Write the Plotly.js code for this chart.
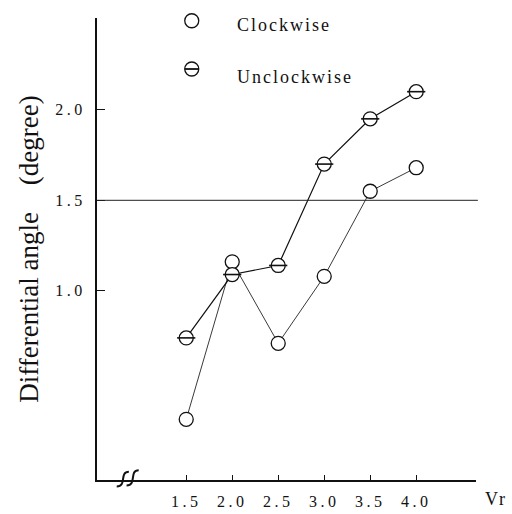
<!DOCTYPE html>
<html><head><meta charset="utf-8">
<script src="https://cdn.plot.ly/plotly-3.0.1.min.js"></script>
<style>
html,body{margin:0;padding:0;background:#fff;}
#chart{width:512px;height:514px;}
.xtick text,.ytick text{letter-spacing:3.5px;}
.annotation-text{letter-spacing:2px;}
</style></head><body><div id="chart"></div>
<script>
// Data
const vr = [1.5, 2.0, 2.5, 3.0, 3.5, 4.0];
const clockwise = [0.29, 1.16, 0.71, 1.08, 1.55, 1.68];
const unclockwise = [0.74, 1.09, 1.14, 1.70, 1.95, 2.10];
const seriesNames = ['Clockwise', 'Unclockwise'];
const xTickVals = [1.5, 2.0, 2.5, 3.0, 3.5, 4.0];
const xTickText = ['1.5', '2.0', '2.5', '3.0', '3.5', '4.0'];
const yTickVals = [1.0, 1.5, 2.0];
const yTickText = ['1.0', '1.5', '2.0'];
const referenceLevel = 1.5;
const xTitle = 'Vr';
const yTitle = 'Differential angle\u00a0\u00a0\u00a0\u00a0(degree)';

const serif = 'Liberation Serif, Times New Roman, serif';
const ink = '#111';

const traces = [
  {
    x: vr, y: clockwise, name: seriesNames[0], type: 'scatter', mode: 'lines+markers',
    line: {color: '#3a3a3a', width: 1},
    marker: {symbol: 'circle', size: 14, color: '#fff', line: {color: ink, width: 1.3}},
    showlegend: false
  },
  {
    x: vr, y: unclockwise, name: seriesNames[1], type: 'scatter', mode: 'lines+markers',
    line: {color: ink, width: 1.2},
    marker: {symbol: 'circle', size: 14, color: '#fff', line: {color: ink, width: 1.3}},
    showlegend: false
  },
  {
    x: vr, y: unclockwise, name: seriesNames[1] + ' bar', type: 'scatter', mode: 'markers',
    marker: {symbol: 'line-ew', size: 13, line: {color: ink, width: 1.6}},
    showlegend: false, hoverinfo: 'skip'
  }
];

const layout = {
  width: 512, height: 514,
  margin: {l: 97, r: 36, t: 18, b: 34, pad: 0},
  paper_bgcolor: '#fff', plot_bgcolor: '#fff',
  showlegend: false,
  font: {family: serif, color: ink},
  xaxis: {
    range: [0.53, 4.65], showline: true, linewidth: 2, linecolor: ink, mirror: false,
    ticks: 'inside', ticklen: 5, tickwidth: 1, tickcolor: ink,
    tickmode: 'array', tickvals: xTickVals, ticktext: xTickText,
    tickfont: {family: serif, size: 16, color: ink}, ticklabelstandoff: 6,
    showgrid: false, zeroline: false
  },
  yaxis: {
    range: [-0.045, 2.507], showline: true, linewidth: 2, linecolor: ink,
    ticks: 'inside', ticklen: 8, tickwidth: 1, tickcolor: ink,
    tickmode: 'array', tickvals: yTickVals, ticktext: yTickText,
    tickfont: {family: serif, size: 16, color: ink}, ticklabelstandoff: 6,
    showgrid: false, zeroline: false,
    title: {text: yTitle, font: {family: serif, size: 27, color: ink}, standoff: 9}
  },
  shapes: [
    {type: 'line', xref: 'paper', yref: 'y', x0: 0, x1: 1.005, y0: referenceLevel, y1: referenceLevel,
     line: {color: '#222', width: 1}},
    {type: 'path', xref: 'paper', yref: 'paper',
     path: 'M 0.052,-0.014 C 0.080,-0.014 0.058,0.018 0.084,0.018', line: {color: ink, width: 2}},
    {type: 'path', xref: 'paper', yref: 'paper',
     path: 'M 0.078,-0.012 C 0.106,-0.012 0.084,0.021 0.110,0.021', line: {color: ink, width: 2}},
    {type: 'circle', xref: 'paper', yref: 'paper', xsizemode: 'pixel', ysizemode: 'pixel',
     xanchor: 0.25, yanchor: 0.994, x0: -7, x1: 7, y0: -7, y1: 7, line: {color: ink, width: 1.3}},
    {type: 'circle', xref: 'paper', yref: 'paper', xsizemode: 'pixel', ysizemode: 'pixel',
     xanchor: 0.25, yanchor: 0.8896, x0: -7, x1: 7, y0: -7, y1: 7, line: {color: ink, width: 1.3}},
    {type: 'line', xref: 'paper', yref: 'paper', xsizemode: 'pixel', ysizemode: 'pixel',
     xanchor: 0.25, yanchor: 0.8896, x0: -7, x1: 7, y0: 0, y1: 0, line: {color: ink, width: 1.8}}
  ],
  annotations: [
    {text: seriesNames[0], xref: 'paper', yref: 'paper', x: 0.364, y: 0.985, xanchor: 'left', yanchor: 'middle',
     showarrow: false, font: {family: serif, size: 18, color: ink}},
    {text: seriesNames[1], xref: 'paper', yref: 'paper', x: 0.364, y: 0.872, xanchor: 'left', yanchor: 'middle',
     showarrow: false, font: {family: serif, size: 18, color: ink}},
    {text: xTitle, xref: 'paper', yref: 'paper', x: 1.052, y: -0.042, xanchor: 'center', yanchor: 'middle',
     showarrow: false, font: {family: serif, size: 18, color: ink}}
  ]
};

Plotly.newPlot('chart', traces, layout, {displayModeBar: false, staticPlot: true});
</script></body></html>
